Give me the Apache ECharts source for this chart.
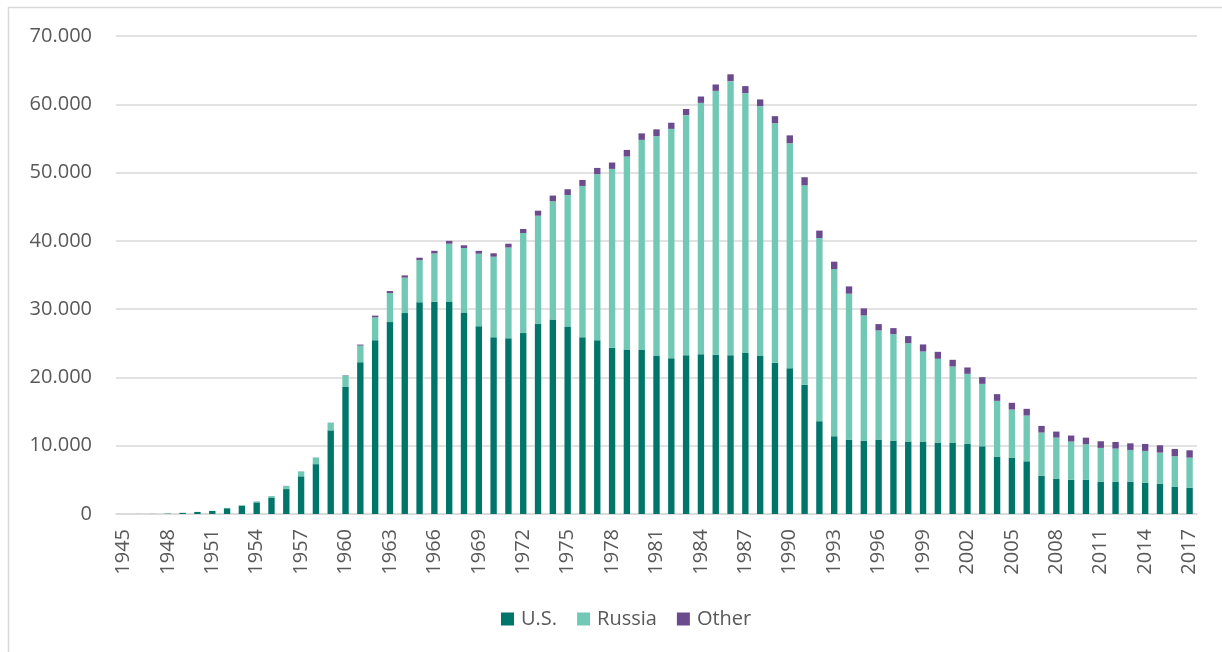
<!DOCTYPE html>
<html>
<head>
<meta charset="utf-8">
<script src="https://cdn.jsdelivr.net/npm/echarts@6/dist/echarts.min.js"></script>
<style>
html,body{margin:0;padding:0;background:#fff;}
#chart{width:1222px;height:652px;}
</style>
</head>
<body>
<div id="chart"></div>
<script>
var years = ['1945','1946','1947','1948','1949','1950','1951','1952','1953','1954','1955','1956','1957','1958','1959','1960','1961','1962','1963','1964','1965','1966','1967','1968','1969','1970','1971','1972','1973','1974','1975','1976','1977','1978','1979','1980','1981','1982','1983','1984','1985','1986','1987','1988','1989','1990','1991','1992','1993','1994','1995','1996','1997','1998','1999','2000','2001','2002','2003','2004','2005','2006','2007','2008','2009','2010','2011','2012','2013','2014','2015','2016','2017'];

var us = [2,9,13,50,170,300,440,840,1170,1700,2420,3650,5520,7300,12250,18600,22240,25450,28100,29420,31000,31080,31130,29500,27500,25880,25730,26490,27810,28490,27470,25900,25460,24340,24100,24000,23120,22820,23260,23410,23310,23260,23560,23120,22140,21360,18910,13590,11390,10900,10750,10900,10750,10610,10610,10460,10460,10310,9920,8410,8260,7720,5620,5180,5030,4990,4740,4740,4740,4590,4450,3960,3860];

var russia = [0,0,0,0,1,5,25,50,120,150,200,450,700,950,1100,1680,2420,3350,4250,5200,6180,7080,8450,9450,10620,11800,13300,14660,15880,17310,19250,22140,24300,26200,28250,30790,32210,33580,35150,36800,38660,40130,38070,36610,35090,32940,29230,26830,24480,21360,18330,15980,15590,14410,13190,12270,11140,10220,9140,8160,7040,6700,6310,6010,5580,5220,4940,4840,4640,4650,4540,4500,4400];

var other = [0,0,0,0,0,0,0,0,1,5,10,15,20,22,25,50,150,250,300,320,350,380,420,400,420,500,550,590,730,830,840,880,920,930,970,950,1000,900,900,930,930,1000,1030,980,1030,1150,1180,1080,1080,1070,1030,930,880,1030,1030,1020,980,930,980,980,980,980,970,880,880,970,970,970,970,1020,1070,1070,1070];

var seriesNames = ['U.S.','Russia','Other'];
var colors = ['#00756a','#71c9b5','#6b4a8d'];

function fmt(v){
  return String(v).replace(/\B(?=(\d{3})+(?!\d))/g,'.');
}

var chart = echarts.init(document.getElementById('chart'));
var font = '"Open Sans", "Liberation Sans", sans-serif';
chart.setOption({
  animation:false,
  color:colors,
  graphic:[{
    type:'rect',
    shape:{x:8.5,y:7.5,width:1240,height:680},
    style:{fill:'none',stroke:'#d9d9d9',lineWidth:1.5},
    silent:true
  }],
  grid:{left:116,top:36,width:1081,height:478,containLabel:false},
  legend:{
    data:seriesNames,
    top:604,
    left:496,
    itemWidth:13,
    itemHeight:13,
    itemGap:20,
    icon:'rect',
    textStyle:{fontFamily:font,fontSize:20,color:'#595959',padding:[0,0,0,2]}
  },
  xAxis:{
    type:'category',
    data:years,
    axisLine:{show:true,lineStyle:{color:'#d9d9d9',width:1.5}},
    axisTick:{show:false},
    axisLabel:{interval:2,rotate:90,margin:15,fontFamily:font,fontSize:20,color:'#595959'}
  },
  yAxis:{
    type:'value',
    min:0,max:70000,interval:10000,
    axisLine:{show:false},
    axisTick:{show:false},
    splitLine:{lineStyle:{color:'#d9d9d9',width:1.5}},
    axisLabel:{margin:24,fontFamily:font,fontSize:20,color:'#595959',formatter:fmt}
  },
  series:[
    {name:seriesNames[0],type:'bar',stack:'t',data:us,barWidth:'43%'},
    {name:seriesNames[1],type:'bar',stack:'t',data:russia,barWidth:'43%'},
    {name:seriesNames[2],type:'bar',stack:'t',data:other,barWidth:'43%'}
  ]
});
</script>
</body>
</html>
